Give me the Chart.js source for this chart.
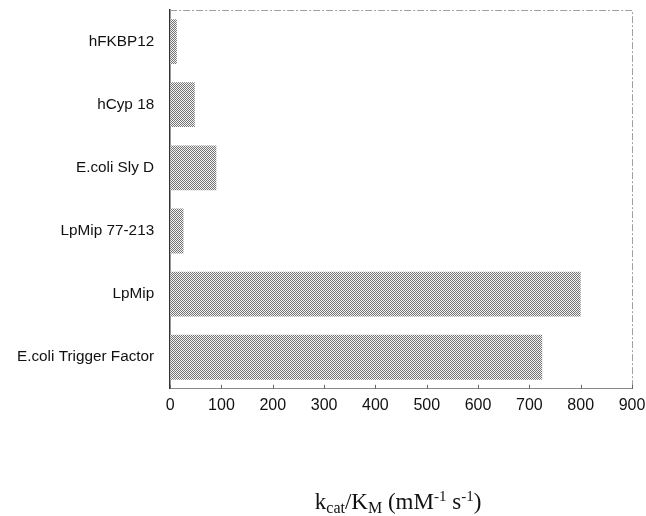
<!DOCTYPE html>
<html lang="en">
<head>
<meta charset="UTF-8">
<title>kcat/KM of peptidyl-prolyl isomerases</title>
<script src="https://cdn.jsdelivr.net/npm/chart.js"></script>
<style>
  html, body { margin: 0; padding: 0; background: #fff; }
  #wrap { width: 646px; height: 516px; }
</style>
</head>
<body>
<div id="wrap"><canvas id="kcatChart" width="646" height="516"></canvas></div>
<script>
// data
const enzymes = ['hFKBP12', 'hCyp 18', 'E.coli Sly D', 'LpMip 77-213', 'LpMip', 'E.coli Trigger Factor'];
const kcatKm = [13, 48, 90, 26, 800, 725];
const xTickValues = [0, 100, 200, 300, 400, 500, 600, 700, 800, 900];

// dotted grey fill, like the scanned bars: plain checker of dots on near-white
function dotPattern() {
  const c = document.createElement('canvas');
  c.width = 2; c.height = 2;
  const g = c.getContext('2d');
  g.fillStyle = '#f4f4f4';
  g.fillRect(0, 0, 2, 2);
  g.fillStyle = '#737373';
  g.fillRect(0, 0, 1, 1);
  g.fillRect(1, 1, 1, 1);
  return g.createPattern(c, 'repeat');
}

// top + right frame, small inward ticks on the x axis
const framePlugin = {
  id: 'frame',
  afterDraw(chart) {
    const { ctx, chartArea: a, scales } = chart;
    ctx.save();
    ctx.strokeStyle = '#a0a0a0';
    ctx.lineWidth = 1;
    ctx.setLineDash([7, 2, 2, 2]);
    ctx.beginPath();
    ctx.moveTo(a.left, a.top + 0.5);
    ctx.lineTo(a.right + 0.5, a.top + 0.5);
    ctx.lineTo(a.right + 0.5, a.bottom);
    ctx.stroke();
    ctx.setLineDash([]);
    ctx.strokeStyle = '#666';
    xTickValues.forEach(v => {
      const px = Math.round(scales.x.getPixelForValue(v)) + 0.5;
      ctx.beginPath();
      ctx.moveTo(px, a.bottom);
      ctx.lineTo(px, a.bottom - 4);
      ctx.stroke();
    });
    ctx.restore();
  }
};

// axis title with sub/superscripts
const axisTitlePlugin = {
  id: 'axisTitle',
  afterDraw(chart) {
    const { ctx, chartArea: a } = chart;
    const parts = [
      ['k', 0, 23], ['cat', 4, 16], ['/K', 0, 23], ['M', 4, 16],
      [' (mM', 0, 23], ['-1', -8, 15], [' s', 0, 23], ['-1', -8, 15], [')', 0, 23]
    ];
    ctx.save();
    ctx.fillStyle = '#111';
    ctx.textBaseline = 'alphabetic';
    let total = 0;
    parts.forEach(p => {
      ctx.font = p[2] + 'px "Liberation Serif", "Times New Roman", serif';
      total += ctx.measureText(p[0]).width;
    });
    let x = (a.left + a.right) / 2 - total / 2 - 3;
    const base = 509;
    parts.forEach(p => {
      ctx.font = p[2] + 'px "Liberation Serif", "Times New Roman", serif';
      ctx.fillText(p[0], x, base + p[1]);
      x += ctx.measureText(p[0]).width;
    });
    ctx.restore();
  }
};

new Chart(document.getElementById('kcatChart'), {
  type: 'bar',
  data: {
    labels: enzymes,
    datasets: [{
      data: kcatKm,
      backgroundColor: dotPattern(),
      borderWidth: 0,
      barPercentage: 0.71,
      categoryPercentage: 1.0
    }]
  },
  options: {
    indexAxis: 'y',
    responsive: false,
    animation: false,
    devicePixelRatio: 1,
    layout: { padding: { left: 1, right: 14, top: 10, bottom: 94 } },
    plugins: { legend: { display: false }, tooltip: { enabled: false } },
    scales: {
      x: {
        min: 0,
        max: 900,
        afterBuildTicks(scale) { scale.ticks = xTickValues.map(v => ({ value: v })); },
        afterFit(scale) { scale.paddingLeft = 0; scale.paddingRight = 0; },
        ticks: {
          color: '#111',
          padding: 7,
          font: { family: '"Liberation Sans", Arial, sans-serif', size: 16 }
        },
        grid: { display: false, drawTicks: false, tickLength: 0 },
        border: { display: true, color: '#888', width: 1 }
      },
      y: {
        afterFit(scale) { scale.paddingTop = 0; scale.paddingBottom = 0; },
        ticks: {
          color: '#111',
          padding: 16,
          font: { family: '"Liberation Sans", Arial, sans-serif', size: 15.3 }
        },
        grid: { display: false, drawTicks: false, tickLength: 0 },
        border: { display: true, color: '#333', width: 1.5 }
      }
    }
  },
  plugins: [framePlugin, axisTitlePlugin]
});
</script>
</body>
</html>
